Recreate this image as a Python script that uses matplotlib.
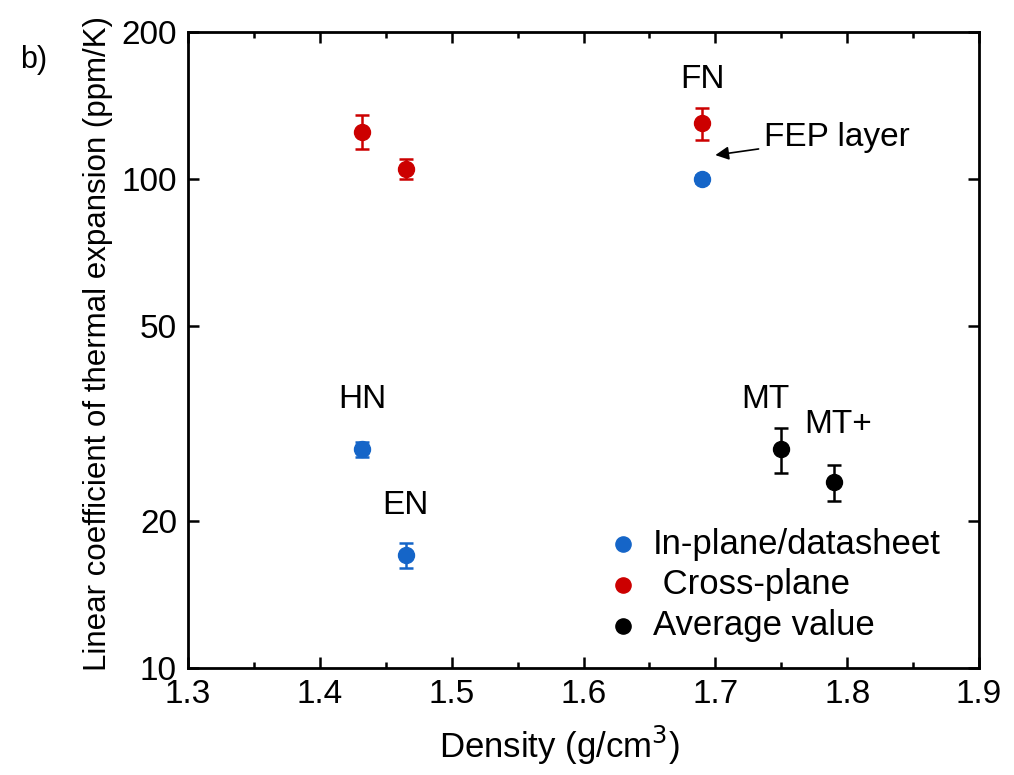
import numpy as np
import matplotlib
matplotlib.use("Agg")
import matplotlib.pyplot as plt
from matplotlib.ticker import MultipleLocator, FixedLocator, NullLocator, FixedFormatter

plt.rcParams['font.family'] = ['Liberation Sans', 'DejaVu Sans']

# in-plane / datasheet values (HN, EN, FN)
inplane_x = [1.432, 1.465, 1.69]
inplane_y = [28, 17, 100]
inplane_err = [1, 1, 2]

# cross-plane values (HN, EN, FN)
cross_x = [1.432, 1.465, 1.69]
cross_y = [125, 105, 130]
cross_err = [10, 5, 10]

# average values (MT, MT+)
avg_x = [1.75, 1.79]
avg_y = [28, 24]
avg_err = [3, 2]

labels = ["HN", "EN", "FN", "MT", "MT+"]
label_pos = [(1.432, 35.5), (1.465, 21.5), (1.69, 160), (1.738, 35.5), (1.793, 31.5)]

yticks = [10, 20, 50, 100, 200]

blue = "#1565c8"
red = "#cc0000"
black = "#000000"

fig = plt.figure(figsize=(10.14, 7.75), dpi=100)
ax = fig.add_axes([188/1014, 1 - 668/775, (979-188)/1014, (668-32)/775])

ekw = dict(fmt='o', markersize=11.5, capsize=5, elinewidth=1.8, capthick=1.8)
ax.errorbar(inplane_x, inplane_y, yerr=inplane_err, color=blue, **ekw)
ax.errorbar(cross_x, cross_y, yerr=cross_err, color=red, **ekw)
ax.errorbar(avg_x, avg_y, yerr=avg_err, color=black, **ekw)

ax.set_yscale('log')
ax.set_xlim(1.3, 1.9)
ax.set_ylim(10, 200)
ax.yaxis.set_major_locator(FixedLocator(yticks))
ax.yaxis.set_major_formatter(FixedFormatter([str(t) for t in yticks]))
ax.yaxis.set_minor_locator(NullLocator())
ax.xaxis.set_major_locator(MultipleLocator(0.1))
ax.xaxis.set_minor_locator(MultipleLocator(0.05))

ax.tick_params(which='both', direction='in', top=True, right=True, width=1.8,
               labelsize=24, pad=8)
ax.tick_params(which='major', length=8)
ax.tick_params(which='minor', length=4.5)
for s in ax.spines.values():
    s.set_linewidth(2)

ax.set_xlabel("Density (g/cm$^3$)", fontsize=25, labelpad=10)
ax.xaxis.label.set_x(0.47)
ax.set_ylabel("Linear coefficient of thermal expansion (ppm/K)", fontsize=22.5, labelpad=6)
ax.yaxis.label.set_y(0.51)

for lab, (lx, ly) in zip(labels, label_pos):
    ax.text(lx, ly, lab, fontsize=24, ha='center', va='center')

ax.annotate("FEP layer", xy=(1.700, 112), xytext=(1.737, 121.5),
            fontsize=24, va='center', ha='left',
            arrowprops=dict(arrowstyle='-|>', color='black', lw=1.2,
                            mutation_scale=20, shrinkA=2, shrinkB=0))

fig.text(20/1014, 1 - 60/775, "b)", fontsize=22, ha='left', va='center')

h1 = ax.scatter([], [], s=120, color=blue)
h2 = ax.scatter([], [], s=120, color=red)
h3 = ax.scatter([], [], s=120, color=black)
ax.legend([h1, h2, h3], ["In-plane/datasheet", " Cross-plane", "Average value"],
          loc='lower left', bbox_to_anchor=(0.478, -0.008), frameon=False,
          fontsize=25, handletextpad=0.1, labelspacing=0.22, scatterpoints=1,
          handlelength=1.5)

fig.savefig("out.png", dpi=100)
